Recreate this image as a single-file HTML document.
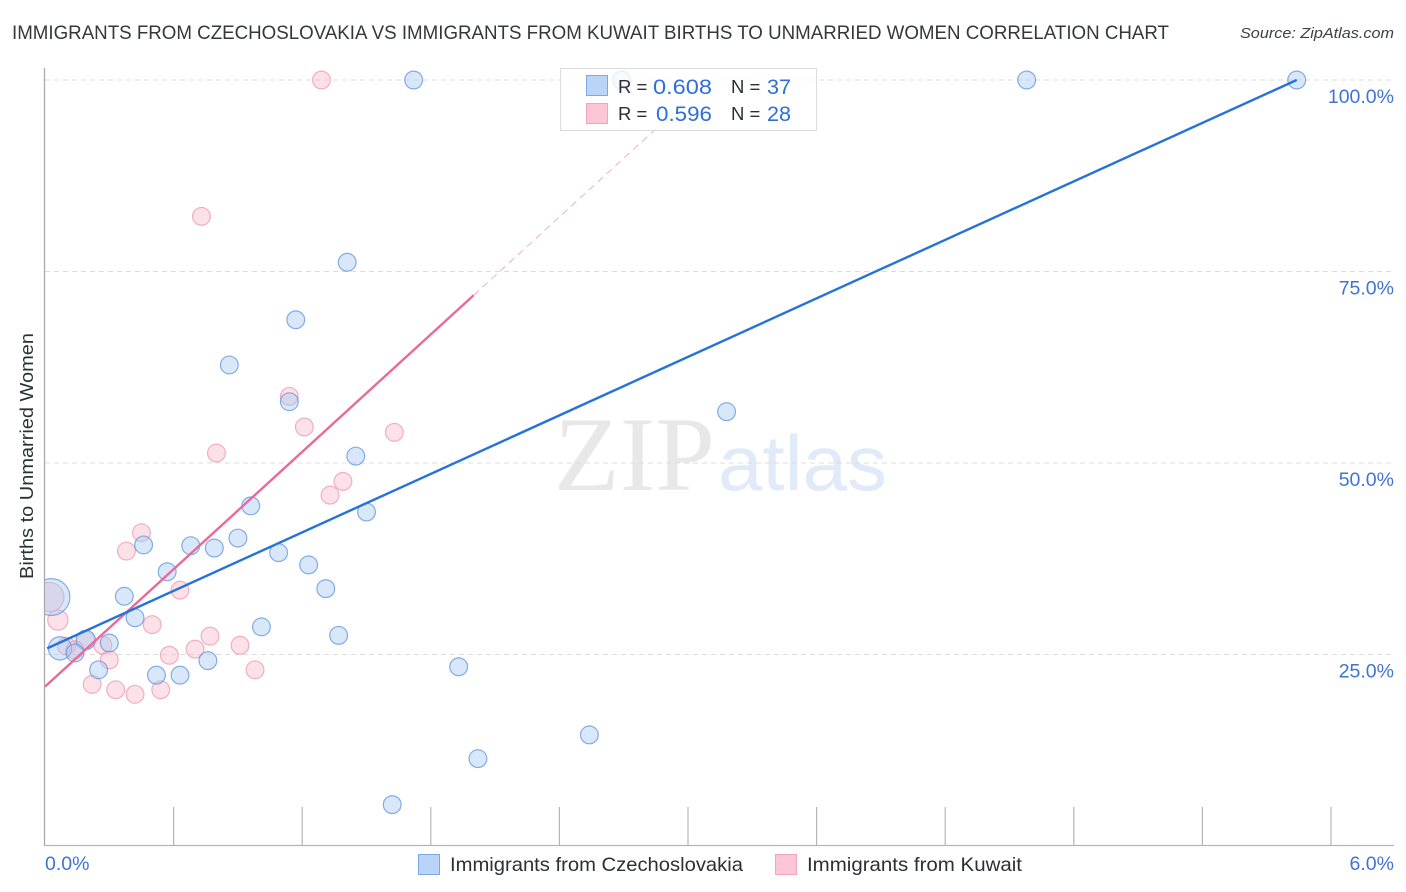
<!DOCTYPE html>
<html lang="en">
<head>
<meta charset="utf-8">
<title>Immigrants from Czechoslovakia vs Immigrants from Kuwait Births to Unmarried Women Correlation Chart</title>
<style>
html,body{margin:0;padding:0;background:#fff;width:1406px;height:892px;overflow:hidden}
svg{display:block}
text{font-family:"Liberation Sans",sans-serif}
</style>
</head>
<body>
<svg id="chart" xmlns="http://www.w3.org/2000/svg" width="1406" height="892" viewBox="0 0 1406 892">
<defs><clipPath id="plot-clip"><rect x="45" y="60" width="1349" height="786"/></clipPath></defs>
<text x="12" y="39" font-size="19" fill="#33373e" textLength="1157" lengthAdjust="spacingAndGlyphs">IMMIGRANTS FROM CZECHOSLOVAKIA VS IMMIGRANTS FROM KUWAIT BIRTHS TO UNMARRIED WOMEN CORRELATION CHART</text>
<text x="1394" y="38" font-size="15" font-style="italic" fill="#3c4048" text-anchor="end" textLength="154" lengthAdjust="spacingAndGlyphs">Source: ZipAtlas.com</text>
<g>
<text x="554" y="490" font-size="106" fill="#e8e8e8" style="font-family:'Liberation Serif',serif" textLength="161" lengthAdjust="spacingAndGlyphs">ZIP</text>
<text x="718" y="490" font-size="78" fill="#e0eaf8" textLength="169" lengthAdjust="spacingAndGlyphs">atlas</text>
</g>
<g id="grid"></g>
<g id="pink-points" clip-path="url(#plot-clip)"></g>
<g id="blue-points" clip-path="url(#plot-clip)"></g>
<rect x="0" y="60" width="44.5" height="786" fill="#fff"/>
<g id="axes"></g>
<g id="trends"></g>
<g>
<rect x="560.5" y="68.5" width="256" height="62" fill="#fff" fill-opacity="0.8" stroke="#dcdcdc" stroke-width="1"/>
<rect x="586.5" y="75.5" width="21" height="20" fill="#b9d4f6" stroke="#7fa9e4"/>
<rect x="586.5" y="103.5" width="21" height="20" fill="#fcc6d6" stroke="#f3a3bd"/>
<text x="618" y="93" font-size="18.5" fill="#2b2f36">R =</text>
<text x="653" y="94" font-size="21" fill="#2f6fd6" textLength="59" lengthAdjust="spacingAndGlyphs">0.608</text>
<text x="731" y="93" font-size="18.5" fill="#2b2f36">N =</text>
<text x="767" y="94" font-size="21" fill="#2f6fd6" textLength="24" lengthAdjust="spacingAndGlyphs">37</text>
<text x="618" y="120" font-size="18.5" fill="#2b2f36">R =</text>
<text x="656" y="121" font-size="21" fill="#2f6fd6" textLength="56" lengthAdjust="spacingAndGlyphs">0.596</text>
<text x="731" y="120" font-size="18.5" fill="#2b2f36">N =</text>
<text x="767" y="121" font-size="21" fill="#2f6fd6" textLength="24" lengthAdjust="spacingAndGlyphs">28</text>
</g>
<text transform="translate(33,456) rotate(-90)" font-size="18.5" fill="#2b2f36" text-anchor="middle" textLength="246" lengthAdjust="spacingAndGlyphs">Births to Unmarried Women</text>
<g>
<rect x="418.5" y="854.5" width="21" height="20" fill="#b9d4f6" stroke="#7fa9e4"/>
<text x="450" y="871" font-size="19.5" fill="#2b2f36" textLength="293" lengthAdjust="spacingAndGlyphs">Immigrants from Czechoslovakia</text>
<rect x="775.5" y="854.5" width="21" height="20" fill="#fcc6d6" stroke="#f3a3bd"/>
<text x="807" y="871" font-size="19.5" fill="#2b2f36" textLength="215" lengthAdjust="spacingAndGlyphs">Immigrants from Kuwait</text>
</g>
</svg>
<script>
const xTickValues = [0, 0.6, 1.2, 1.8, 2.4, 3.0, 3.6, 4.2, 4.8, 5.4, 6.0];
const xTickLabels = ["0.0%", "", "", "", "", "", "", "", "", "", "6.0%"];
const yTickValues = [25, 50, 75, 100];
const yTickLabels = ["25.0%", "50.0%", "75.0%", "100.0%"];

const blueX = [5.84, 4.58, 1.72, 2.69, 1.41, 1.17, 0.86, 3.18, 1.14, 1.45, 0.96, 1.50, 0.90, 0.46, 0.68, 0.79, 1.09, 1.23, 0.57, 1.31, 0.37, 0.42, 1.01, 1.37, 0.30, 0.19, 0.07, 0.14, 0.25, 0.52, 0.63, 0.76, 1.93, 2.54, 2.02, 1.62, 0.03];
const blueY = [100, 100, 100, 100, 76.2, 68.7, 62.8, 56.7, 58.0, 50.9, 44.4, 43.6, 40.2, 39.3, 39.2, 38.9, 38.3, 36.7, 35.8, 33.6, 32.6, 29.8, 28.6, 27.5, 26.5, 26.9, 25.8, 25.2, 23.0, 22.3, 22.3, 24.2, 23.4, 14.5, 11.4, 5.4, 32.5];
const blueWeight = [1, 1, 1, 1, 1, 1, 1, 1, 1, 1, 1, 1, 1, 1, 1, 1, 1, 1, 1, 1, 1, 1, 1, 1, 1, 1.2, 1.7, 1, 1, 1, 1, 1, 1, 1, 1, 1, 4.3];

const pinkX = [1.29, 0.73, 1.14, 1.21, 1.63, 0.80, 1.39, 1.33, 0.45, 0.38, 0.63, 0.50, 0.06, 0.02, 0.77, 0.91, 0.70, 0.58, 0.27, 0.19, 0.10, 0.14, 0.30, 0.98, 0.22, 0.33, 0.42, 0.54];
const pinkY = [100, 82.2, 58.7, 54.7, 54.0, 51.3, 47.6, 45.8, 40.9, 38.5, 33.4, 28.9, 29.5, 32.5, 27.4, 26.2, 25.7, 24.9, 26.2, 26.9, 26.1, 25.6, 24.3, 23.0, 21.1, 20.4, 19.8, 20.4];
const pinkWeight = [1, 1, 1, 1, 1, 1, 1, 1, 1, 1, 1, 1, 1.3, 2.7, 1, 1, 1, 1, 1, 1, 1, 1, 1, 1, 1, 1, 1, 1];

const blueTrendX = [0.01, 5.84];
const blueTrendY = [25.8, 100];
const pinkTrendX = [0.00, 2.00];
const pinkTrendY = [20.8, 71.9];
const pinkTrendExtendX = [2.00, 3.10];
const pinkTrendExtendY = [71.9, 100];

const NS = 'http://www.w3.org/2000/svg';
function sx(v) { return 45 + v * (1331 - 45) / 6; }
function sy(v) { return 846 - v * 7.66; }
function make(tag, attrs, parent) {
  const el = document.createElementNS(NS, tag);
  for (const k in attrs) el.setAttribute(k, attrs[k]);
  parent.appendChild(el);
  return el;
}

const grid = document.getElementById('grid');
const axes = document.getElementById('axes');

yTickValues.forEach((v, i) => {
  const line = make('line', {x1: 45, x2: 1394, y1: sy(v), y2: sy(v), stroke: '#dcdcdc', 'stroke-width': 1, 'stroke-dasharray': '5 4'}, grid);
  
  
  const label = make('text', {x: 1394, y: sy(v) + 23, 'font-size': 19.5, fill: '#3f74d2', 'text-anchor': 'end'}, axes);
  
  
  label.textContent = yTickLabels[i];
});

const yAxisLine = make('line', {x1: 44.5, x2: 44.5, y1: 68, y2: 846, stroke: '#ababab', 'stroke-width': 1.3}, axes);


const xAxisLine = make('line', {x1: 44, x2: 1394, y1: 845.5, y2: 845.5, stroke: '#b5b5b5', 'stroke-width': 1.3}, axes);



xTickValues.forEach((v, i) => {
  if (i > 0) {
    const tick = make('line', {x1: sx(v), x2: sx(v), y1: 807, y2: 846, stroke: '#b5b5b5', 'stroke-width': 1.2}, axes);
    
    
  }
  if (xTickLabels[i]) {
    const first = i === 0;
    const label = make('text', {x: first ? 45 : 1394, y: 870, 'font-size': 19.5, fill: '#3f74d2', 'text-anchor': first ? 'start' : 'end'}, axes);
    
    
    label.textContent = xTickLabels[i];
  }
});

function radius(w) { return 8.9 * Math.sqrt(w); }

const pinkGroup = document.getElementById('pink-points');
pinkX.forEach((v, i) => {
  const c = make('circle', {cx: sx(v), cy: sy(pinkY[i]), r: radius(pinkWeight[i]), fill: '#f8b4c8', 'fill-opacity': 0.4, stroke: '#ee90ac', 'stroke-opacity': 0.7, 'stroke-width': 1.2}, pinkGroup);
  
  
});

const blueGroup = document.getElementById('blue-points');
blueX.forEach((v, i) => {
  const c = make('circle', {cx: sx(v), cy: sy(blueY[i]), r: radius(blueWeight[i]), fill: '#a9c9f2', 'fill-opacity': 0.45, stroke: '#5f94de', 'stroke-opacity': 0.75, 'stroke-width': 1.2}, blueGroup);
  
  
});

const trends = document.getElementById('trends');
const pinkExt = make('line', {x1: sx(pinkTrendExtendX[0]), y1: sy(pinkTrendExtendY[0]), x2: sx(pinkTrendExtendX[1]), y2: sy(pinkTrendExtendY[1]), stroke: '#e8769f', 'stroke-width': 1, 'stroke-opacity': 0.6, 'stroke-dasharray': '7 5'}, trends);


const pinkLine = make('line', {x1: sx(pinkTrendX[0]), y1: sy(pinkTrendY[0]), x2: sx(pinkTrendX[1]), y2: sy(pinkTrendY[1]), stroke: '#e8699a', 'stroke-width': 2.4}, trends);


const blueLine = make('line', {x1: sx(blueTrendX[0]), y1: sy(blueTrendY[0]), x2: sx(blueTrendX[1]), y2: sy(blueTrendY[1]), stroke: '#2473d8', 'stroke-width': 2.4}, trends);


</script>
</body>
</html>
